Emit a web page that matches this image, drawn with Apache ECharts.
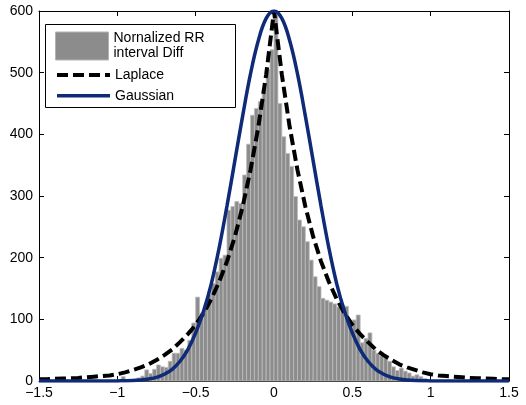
<!DOCTYPE html>
<html><head><meta charset="utf-8">
<script src="https://cdn.jsdelivr.net/npm/echarts@6/dist/echarts.min.js"></script>
<style>html,body{margin:0;padding:0;background:#fff}#c{width:526px;height:405px}</style>
</head><body><div id="c"></div>
<script>
// Histogram: bin centres and counts (bin width 0.025)
const binWidth = 0.025;
const binCenters = [
 -0.9875,-0.9625,-0.9375,-0.9125,-0.8875,-0.8625,-0.8375,-0.8125,-0.7875,-0.7625,
 -0.7375,-0.7125,-0.6875,-0.6625,-0.6375,-0.6125,-0.5875,-0.5625,-0.5375,-0.5125,
 -0.4875,-0.4625,-0.4375,-0.4125,-0.3875,-0.3625,-0.3375,-0.3125,-0.2875,-0.2625,
 -0.2375,-0.2125,-0.1875,-0.1625,-0.1375,-0.1125,-0.0875,-0.0625,-0.0375,-0.0125,
 0.0125,0.0375,0.0625,0.0875,0.1125,0.1375,0.1625,0.1875,0.2125,0.2375,
 0.2625,0.2875,0.3125,0.3375,0.3625,0.3875,0.4125,0.4375,0.4625,0.4875,
 0.5125,0.5375,0.5625,0.5875,0.6125,0.6375,0.6625,0.6875,0.7125,0.7375,
 0.7625,0.7875,0.8125,0.8375,0.8625,0.8875,0.9125,0.9375,0.9625,0.9875
];
const binCounts = [
 2,7,2,2,3,5,8,18,12,19,
 26,23,22,32,45,45,53,50,66,94,
 136,110,120,140,158,177,199,204,277,283,
 291,288,334,384,431,442,453,472,505,537,
 595,450,396,369,348,299,261,250,226,196,
 169,153,134,131,128,125,120,123,121,95,
 99,107,62,69,78,50,45,41,38,32,
 23,17,21,16,13,8,10,7,4,2
];
// Fitted curves sampled along x
const curveX = [
 -1.5,-1.45,-1.4,-1.35,-1.3,-1.25,-1.2,-1.15,-1.1,-1.05,
 -1.0,-0.95,-0.9,-0.85,-0.8,-0.75,-0.7,-0.65,-0.6,-0.55,
 -0.5,-0.45,-0.4,-0.35,-0.3,-0.25,-0.2,-0.15,-0.1,-0.05,
 0,
 0.05,0.1,0.15,0.2,0.25,0.3,0.35,0.4,0.45,0.5,
 0.55,0.6,0.65,0.7,0.75,0.8,0.85,0.9,0.95,1.0,
 1.05,1.1,1.15,1.2,1.25,1.3,1.35,1.4,1.45,1.5
];
const laplaceY = [
 2.7,3,3.5,4,4.5,5,6,7,8,9,
 11,14,18,22,27,34,42,51,63,76,
 91,110,133,161,194,234,283,342,412,497,
 600,
 497,412,342,283,234,194,161,133,110,91,
 76,63,51,42,34,27,22,18,14,11,
 9,8,7,6,5,4.5,4,3.5,3,2.7
];
const gaussY = [
 0,0,0,0,0,0,0,0,0,0,
 0.2,0.4,0.8,1.7,3.3,6,11,19,32,51,
 78,113,158,216,284,357,430,498,552,588,
 600,
 588,552,498,430,357,284,216,158,113,78,
 51,32,19,11,6,3.3,1.7,0.8,0.4,0.2,
 0,0,0,0,0,0,0,0,0,0
];
const histName = 'Nornalized RR\ninterval Diff';
const lapName = 'Laplace';
const gaussName = 'Gaussian';

const font = '"Liberation Sans", Arial, Helvetica, sans-serif';
const chart = echarts.init(document.getElementById('c'), null, {renderer: 'canvas'});
const fmt = v => (v < 0 ? '\u2212' + Math.abs(v) : String(v));
const axBase = {
  axisLine: {show: true, onZero: false, lineStyle: {color: '#000', width: 1}},
  axisTick: {show: true, inside: true, length: 5, lineStyle: {color: '#000', width: 1}},
  splitLine: {show: false}
};
const txt = {color: '#000', fontSize: 14, fontFamily: font};
chart.setOption({
  animation: false,
  backgroundColor: '#fff',
  grid: {left: 39, right: 17, top: 11, bottom: 24, containLabel: false},
  xAxis: [
    Object.assign({type: 'value', min: -1.5, max: 1.5, interval: 0.5, position: 'bottom',
      axisLabel: Object.assign({margin: 5, formatter: fmt}, txt)}, axBase),
    Object.assign({type: 'value', min: -1.5, max: 1.5, interval: 0.5, position: 'top',
      axisLabel: {show: false}}, axBase)
  ],
  yAxis: [
    Object.assign({type: 'value', min: 0, max: 600, interval: 100, position: 'left',
      axisLabel: Object.assign({margin: 6}, txt)}, axBase),
    Object.assign({type: 'value', min: 0, max: 600, interval: 100, position: 'right',
      axisLabel: {show: false}}, axBase)
  ],
  legend: [
    {data: [{name: histName, icon: 'rect', itemStyle: {color: '#8c8c8c', borderColor: '#b4b4b4', borderWidth: 1}}],
     left: 55, top: 31, itemWidth: 53, itemHeight: 28, padding: 0, z: 10,
     selectedMode: false, textStyle: Object.assign({lineHeight: 15}, txt)},
    {data: [{name: lapName, itemStyle: {opacity: 0}, lineStyle: {width: 4, type: [11, 5], color: '#000', opacity: 1}},
            {name: gaussName, itemStyle: {opacity: 0}, lineStyle: {width: 3.5, color: '#0e2a78', opacity: 1}}],
     orient: 'vertical', left: 55, top: 67.5, itemWidth: 53, itemHeight: 14, itemGap: 5.7,
     padding: 0, z: 10, selectedMode: false, textStyle: Object.assign({lineHeight: 15}, txt)}
  ],
  graphic: [{type: 'rect', left: 45, top: 24, z: 9,
    shape: {width: 190, height: 83},
    style: {fill: '#fff', stroke: '#000', lineWidth: 1}}],
  series: [
    {name: histName, type: 'custom', xAxisIndex: 0, yAxisIndex: 0,
     encode: {x: 0, y: 1},
     itemStyle: {color: '#8c8c8c'},
     data: binCenters.map((c, i) => [c, binCounts[i]]),
     renderItem: function (params, api) {
       const c = api.value(0), h = api.value(1);
       const p0 = api.coord([c - binWidth / 2, h]);
       const p1 = api.coord([c + binWidth / 2, 0]);
       return {type: 'rect',
         shape: {x: p0[0], y: p0[1], width: p1[0] - p0[0], height: p1[1] - p0[1]},
         style: {fill: '#8c8c8c', stroke: '#bdbdbd', lineWidth: 0.8}};
     }},
    {name: lapName, type: 'line', symbol: 'none', smooth: false, z: 3,
     itemStyle: {color: '#000'},
     data: curveX.map((x, i) => [x, laplaceY[i]]),
     lineStyle: {color: '#000', width: 4, type: [11, 5]}},
    {name: gaussName, type: 'line', symbol: 'none', smooth: 0.4, z: 4,
     itemStyle: {color: '#0e2a78'},
     data: curveX.map((x, i) => [x, gaussY[i]]),
     lineStyle: {color: '#0e2a78', width: 3.5}}
  ]
});
</script></body></html>
